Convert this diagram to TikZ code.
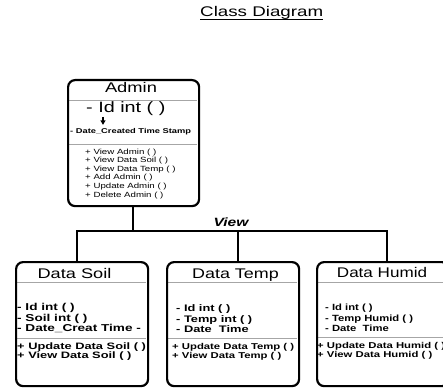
\documentclass[tikz,border=0pt]{standalone}
\usepackage{fontspec}
\setmainfont{Liberation Sans}
\usepackage{graphicx}
\newcommand{\sx}[2]{\scalebox{#1}[1]{#2}}
\newcommand{\fs}[1]{\fontsize{#1}{#1}\selectfont}
\begin{document}
\begin{tikzpicture}[x=1pt,y=-1pt,
  box/.style={draw=black, line width=2.2pt, rounded corners=7pt, inner sep=0, anchor=north west},
  conn/.style={line width=2.2pt},
  sepl/.style={draw=black!35, line width=0.9pt},
  txt/.style={inner sep=0, anchor=base west},
  ctxt/.style={inner sep=0, anchor=base}]
\useasboundingbox (0,0) rectangle (443,387);
\fill[white] (0,0) rectangle (443,387);

% title
\node[txt] (title) at (200,17) {\fs{14pt}\sx{1.34}{Class Diagram}};
\draw[line width=0.8pt] ([yshift=-2.2pt]title.base west) -- ([yshift=-2.2pt]title.base east);

% separators
\draw[sepl] (68,100) -- (197,100);
\draw[sepl] (68,144) -- (197,144);
\draw[sepl] (16,282) -- (146,282);
\draw[sepl] (16,338) -- (146,338);
\draw[sepl] (167,282) -- (297,282);
\draw[sepl] (167,338) -- (297,338);
\draw[sepl] (317,282) -- (447,282);
\draw[sepl] (317,337) -- (447,337);

% boxes
\node[box, minimum width=131pt, minimum height=126pt] (admin) at (67,79) {};
\node[box, minimum width=132pt, minimum height=124pt] (soil) at (15,261) {};
\node[box, minimum width=132pt, minimum height=124pt] (temp) at (166,261) {};
\node[box, minimum width=132pt, minimum height=124pt] (humid) at (316,261) {};

% Admin content
\node[ctxt] (at) at (131,93) {\fs{14pt}\sx{1.31}{Admin}};
\node[txt] (a1) at (86,113) {\fs{15pt}\sx{1.32}{- Id int ( )}};
\draw[line width=1.1pt] (103,117) -- (103,121);
\fill (100.3,120.3) -- (105.7,120.3) -- (103,124.8) -- cycle;
\node[txt] (a2) at (70,134) {\fs{7pt}\bfseries\sx{1.33}{- Date\_Created Time Stamp}};
\foreach \t [count=\i from 0] in {+ View Admin ( ),+ View Data Soil ( ),+ View Data Temp ( ),+ Add Admin ( ),+ Update Admin ( ),+ Delete Admin ( )}
  \node[txt] (am\i) at (85,154+8.6*\i) {\fs{7.5pt}\sx{1.29}{\t}};

% connectors
\coordinate (jc) at (133,231);
\coordinate (jl) at (77,231);
\coordinate (jm) at (238,231);
\coordinate (jr) at (387,231);
\draw[conn] (jc |- admin.south) -- (jc);
\draw[conn] (jl |- soil.north) -- (jl) -- (jr) -- (jr |- humid.north);
\draw[conn] (jm) -- (jm |- temp.north);
\node[ctxt] (view) at (231,226) {\fs{12pt}\bfseries\itshape\sx{1.3}{View}};

% Data Soil
\node[ctxt] (st) at (74.5,278) {\fs{14pt}\sx{1.3}{Data Soil}};
\node[txt] (s1) at (17,310) {\fs{10pt}\bfseries\sx{1.36}{- Id int ( )}};
\node[txt] (s2) at (17,321) {\fs{10pt}\bfseries\sx{1.36}{- Soil int ( )}};
\node[txt] (s3) at (17,331) {\fs{10pt}\bfseries\sx{1.36}{- Date\_Creat Time -}};
\node[txt] (s4) at (17,349) {\fs{9.3pt}\bfseries\sx{1.38}{+ Update Data Soil ( )}};
\node[txt] (s5) at (17,358) {\fs{9.3pt}\bfseries\sx{1.38}{+ View Data Soil ( )}};

% Data Temp
\node[ctxt] (tt) at (235.5,278) {\fs{14pt}\sx{1.28}{Data Temp}};
\node[txt] (t1) at (176,311) {\fs{9.5pt}\bfseries\sx{1.35}{- Id int ( )}};
\node[txt] (t2) at (176,322) {\fs{9.5pt}\bfseries\sx{1.35}{- Temp int ( )}};
\node[txt] (t3) at (176,332) {\fs{9.5pt}\bfseries\sx{1.35}{- Date\ \ Time}};
\node[txt] (t4) at (172,349) {\fs{8.5pt}\bfseries\sx{1.33}{+ Update Data Temp ( )}};
\node[txt] (t5) at (172,358) {\fs{8.5pt}\bfseries\sx{1.33}{+ View Data Temp ( )}};

% Data Humid
\node[ctxt] (ht) at (382,277) {\fs{14pt}\sx{1.22}{Data Humid}};
\node[txt] (h1) at (325,310) {\fs{9pt}\bfseries\sx{1.25}{- Id int ( )}};
\node[txt] (h2) at (325,321) {\fs{9pt}\bfseries\sx{1.25}{- Temp Humid ( )}};
\node[txt] (h3) at (325,331) {\fs{9pt}\bfseries\sx{1.25}{- Date\ \ Time}};
\node[txt] (h4) at (317,348) {\fs{8.5pt}\bfseries\sx{1.33}{+ Update Data Humid ( )}};
\node[txt] (h5) at (317,357) {\fs{8.5pt}\bfseries\sx{1.33}{+ View Data Humid ( )}};
\end{tikzpicture}
\end{document}
